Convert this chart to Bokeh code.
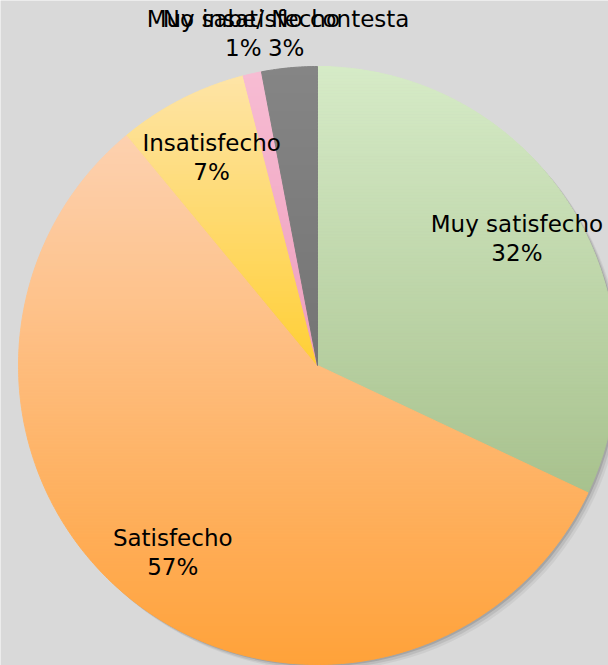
import numpy as np
from bokeh.plotting import figure
from bokeh.models import Range1d, ColumnDataSource
from bokeh.core.properties import value
from bokeh.embed import file_html
from bokeh.resources import INLINE

categories = ["Muy satisfecho", "Satisfecho", "Insatisfecho", "Muy insatisfecho", "No sabe/ No contesta"]
percent = [32, 57, 7, 1, 3]
color_top = ["#d6ebc7", "#fdd1b0", "#fee4a6", "#f7bcd3", "#858585"]
color_bottom = ["#a8c28e", "#ffa23a", "#ffcf35", "#ee9ebd", "#747474"]
label_radius = [0.79, 0.79, 0.78, 1.137, 1.115]

W, H = 608, 665
cx, cy, R = 317, 300, 299

frac = np.array(percent, dtype=float) / sum(percent)
cum = np.concatenate([[0], np.cumsum(frac)])
start = np.pi / 2 - 2 * np.pi * cum[1:]
end = np.pi / 2 - 2 * np.pi * cum[:-1]
mid = (start + end) / 2


def hex2rgb(h):
    h = h.lstrip("#")
    return np.array([int(h[i:i + 2], 16) for i in (0, 2, 4)], dtype=float)


def rgb2hex(c):
    return "#%02x%02x%02x" % tuple(int(round(v)) for v in c)


def clip(poly, y0, keep_above):
    out = []
    n = len(poly)
    for i in range(n):
        a = poly[i]
        b = poly[(i + 1) % n]
        ina = (a[1] >= y0) if keep_above else (a[1] <= y0)
        inb = (b[1] >= y0) if keep_above else (b[1] <= y0)
        if ina:
            out.append(a)
        if ina != inb:
            t = (y0 - a[1]) / (b[1] - a[1])
            out.append((a[0] + t * (b[0] - a[0]), y0))
    return out


xs_all, ys_all, cols_all = [], [], []
step = 3.0
for s, e, ct, cb in zip(start, end, color_top, color_bottom):
    n = max(8, int((e - s) / (2 * np.pi) * 720))
    th = np.linspace(e, s, n)
    poly = [(cx, cy)] + [(cx + R * np.cos(t), cy + R * np.sin(t)) for t in th]
    ymin = min(pt[1] for pt in poly)
    ymax = max(pt[1] for pt in poly)
    c_top, c_bot = hex2rgb(ct), hex2rgb(cb)
    y = ymin
    while y < ymax:
        y1 = min(y + step, ymax)
        band = clip(clip(poly, y, True), y1, False)
        if len(band) >= 3:
            f = ((y + y1) / 2 - ymin) / (ymax - ymin)  # 0 bottom, 1 top
            col = rgb2hex(c_bot + (c_top - c_bot) * f)
            xs_all.append([pt[0] for pt in band])
            ys_all.append([pt[1] for pt in band])
            cols_all.append(col)
        y = y1

src = ColumnDataSource(dict(
    lx=cx + np.array(label_radius) * R * np.cos(mid),
    ly=cy + np.array(label_radius) * R * np.sin(mid),
    label=[f"{c}\n{p}%" for c, p in zip(categories, percent)],
))

p = figure(width=W, height=H, x_range=Range1d(0, W), y_range=Range1d(0, H),
           output_backend="svg", toolbar_location=None, min_border=0)
p.axis.visible = False
p.grid.visible = False
p.outline_line_color = None
p.background_fill_color = "#d9d9d9"
p.border_fill_color = "#d9d9d9"

# soft shadow
for off, a in [(6, 0.05), (4, 0.08), (2, 0.12)]:
    p.circle(x=[cx + off], y=[cy - off], radius=R, fill_color="black", fill_alpha=a, line_color=None)

p.patches(xs=xs_all, ys=ys_all, fill_color=cols_all, line_color=cols_all, line_width=1)

p.text(x="lx", y="ly", text="label", source=src, text_align="center", text_baseline="middle",
       text_font=value("DejaVu Sans"), text_font_size="23px", text_color="black",
       text_line_height=1.12)

open("out.html", "w").write(file_html(p, INLINE))
